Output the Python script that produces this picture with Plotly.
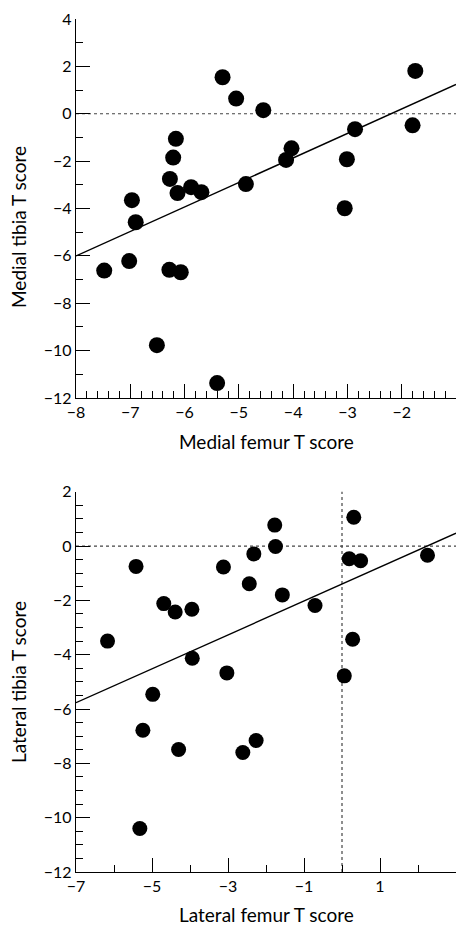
import plotly.graph_objects as go

# ---- Data: top panel (medial) ----
medial_femur = [-1.75, -5.30, -5.05, -4.55, -1.80, -2.86, -6.16, -4.03, -4.13, -3.01,
                -6.21, -6.27, -4.87, -6.13, -5.88, -5.69, -6.97, -3.05, -6.90,
                -7.48, -7.02, -6.28, -6.07, -6.51, -5.40]
medial_tibia = [1.81, 1.54, 0.64, 0.15, -0.49, -0.65, -1.06, -1.46, -1.95, -1.92,
                -1.85, -2.75, -2.97, -3.35, -3.10, -3.31, -3.65, -3.99, -4.58,
                -6.62, -6.22, -6.59, -6.69, -9.77, -11.37]
medial_fit = {"intercept": 2.27, "slope": 1.034}

# ---- Data: bottom panel (lateral) ----
lateral_femur = [0.31, -1.77, -1.75, -2.32, 2.25, 0.19, 0.49, -5.42, -3.12, -2.44,
                 -1.57, -0.71, -4.69, -4.39, -3.95, 0.28, -6.17, -3.94, -3.03, 0.06,
                 -4.98, -5.24, -4.30, -2.61, -2.26, -5.32]
lateral_tibia = [1.06, 0.77, -0.02, -0.29, -0.34, -0.47, -0.54, -0.75, -0.77, -1.39,
                 -1.80, -2.19, -2.12, -2.43, -2.33, -3.43, -3.50, -4.13, -4.67, -4.78,
                 -5.46, -6.78, -7.49, -7.60, -7.16, -10.40]
lateral_fit = {"intercept": -1.40, "slope": 0.624}

# axis ranges / reference lines
top_xrange = [-8, -1]
top_yrange = [-12, 4]
bot_xrange = [-7, 3]
bot_yrange = [-12, 2]
top_ref_y = 0
bot_ref_y = 0
bot_ref_x = 0

FONT = "Lato"
W, H = 456, 925

fig = go.Figure()

def fit_line(fit, xr):
    xs = [xr[0], xr[1]]
    ys = [fit["intercept"] + fit["slope"] * x for x in xs]
    return xs, ys

# top panel
xs, ys = fit_line(medial_fit, top_xrange)
fig.add_trace(go.Scatter(x=xs, y=ys, mode="lines", line=dict(color="black", width=1.4),
                         xaxis="x", yaxis="y", showlegend=False, hoverinfo="skip"))
fig.add_trace(go.Scatter(x=medial_femur, y=medial_tibia, mode="markers",
                         marker=dict(color="black", size=16, line=dict(width=0)),
                         xaxis="x", yaxis="y", showlegend=False, cliponaxis=False))
# bottom panel
xs, ys = fit_line(lateral_fit, bot_xrange)
fig.add_trace(go.Scatter(x=xs, y=ys, mode="lines", line=dict(color="black", width=1.4),
                         xaxis="x2", yaxis="y2", showlegend=False, hoverinfo="skip"))
fig.add_trace(go.Scatter(x=lateral_femur, y=lateral_tibia, mode="markers",
                         marker=dict(color="black", size=15, line=dict(width=0)),
                         xaxis="x2", yaxis="y2", showlegend=False, cliponaxis=False))

dot = dict(color="#444", width=1.2, dash="dot")
shapes = [
    dict(type="line", xref="x domain", yref="y", x0=0, x1=1, y0=top_ref_y, y1=top_ref_y, line=dot, layer="below"),
    dict(type="line", xref="x2 domain", yref="y2", x0=0, x1=1, y0=bot_ref_y, y1=bot_ref_y, line=dot, layer="below"),
    dict(type="line", xref="x2", yref="y2 domain", x0=bot_ref_x, x1=bot_ref_x, y0=0, y1=1, line=dot, layer="below"),
]

def ax(rng, dtick, mdtick, domain, anchor, **kw):
    d = dict(range=rng, domain=domain, anchor=anchor, dtick=dtick, tick0=0,
             ticks="inside", ticklen=14, tickwidth=1.3, tickcolor="black",
             showline=True, linecolor="black", linewidth=1.4,
             showgrid=False, zeroline=False, mirror=False,
             tickfont=dict(family=FONT, size=16, color="black"),
             minor=dict(dtick=mdtick, tick0=0, ticks="inside", ticklen=7,
                        tickwidth=1.3, tickcolor="black", showgrid=False),
             automargin=False, fixedrange=True)
    d.update(kw)
    return d

xdom = [76 / W, 1.0]
ydom_top = [(H - 398) / H, (H - 19) / H]
ydom_bot = [(H - 872) / H, (H - 491.7) / H]

TS = 19
fig.update_layout(
    width=W, height=H,
    margin=dict(l=0, r=0, t=0, b=0, autoexpand=False),
    paper_bgcolor="white", plot_bgcolor="white",
    font=dict(family=FONT, color="black"),
    xaxis=ax(top_xrange, 1, 0.2, xdom, "y"),
    yaxis=ax(top_yrange, 2, 1, ydom_top, "x"),
    xaxis2=ax(bot_xrange, 2, 1, xdom, "y2", tick0=-7),
    yaxis2=ax(bot_yrange, 2, 0.5, ydom_bot, "x2"),
    shapes=shapes,
    annotations=[
        dict(text="Medial femur T score", x=266 / W, y=(H - 441) / H, xref="paper", yref="paper",
             showarrow=False, font=dict(family=FONT, size=TS, color="black"), xanchor="center", yanchor="middle"),
        dict(text="Medial tibia T score", x=18 / W, y=(H - 227) / H, xref="paper", yref="paper",
             showarrow=False, textangle=-90, font=dict(family=FONT, size=TS, color="black"), xanchor="center", yanchor="middle"),
        dict(text="Lateral femur T score", x=266 / W, y=(H - 914) / H, xref="paper", yref="paper",
             showarrow=False, font=dict(family=FONT, size=TS, color="black"), xanchor="center", yanchor="middle"),
        dict(text="Lateral tibia T score", x=18 / W, y=(H - 682) / H, xref="paper", yref="paper",
             showarrow=False, textangle=-90, font=dict(family=FONT, size=TS, color="black"), xanchor="center", yanchor="middle"),
    ],
)

fig.write_html("out.html", config={"displayModeBar": False},
               post_script="document.body.style.margin='0';document.body.style.overflow='hidden';")
